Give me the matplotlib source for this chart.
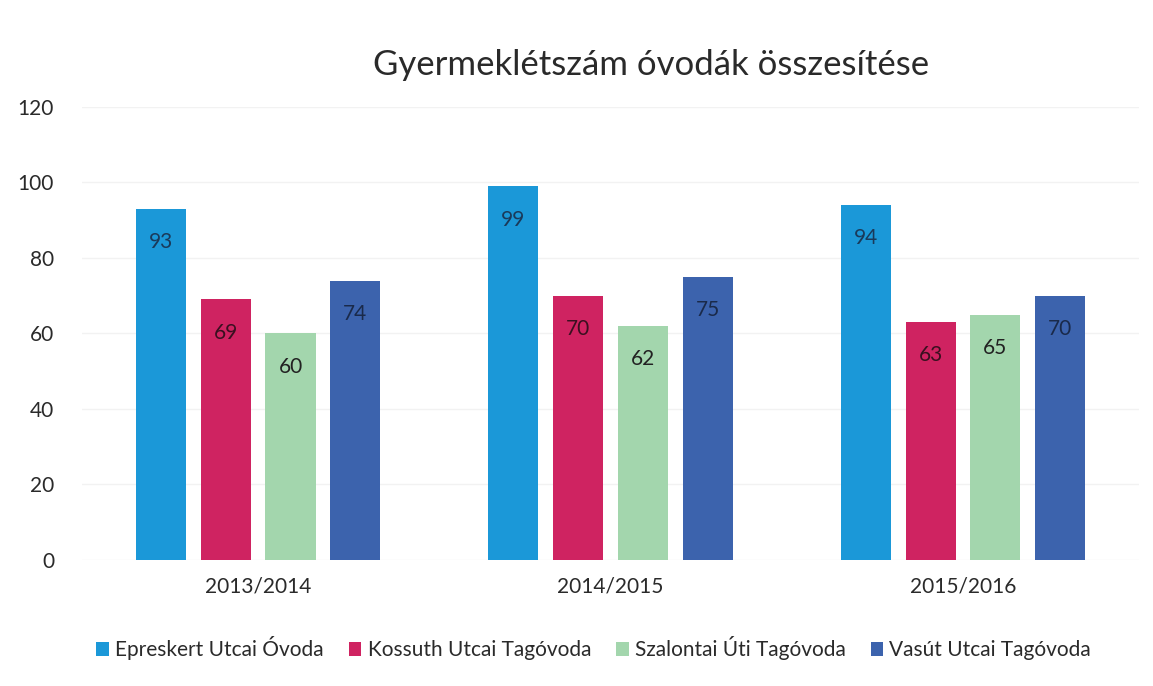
import matplotlib.pyplot as plt
import numpy as np

# === Data ===
years = ["2013/2014", "2014/2015", "2015/2016"]
series_names = ["Epreskert Utcai Óvoda", "Kossuth Utcai Tagóvoda",
                "Szalontai Úti Tagóvoda", "Vasút Utcai Tagóvoda"]
epreskert = [93, 99, 94]
kossuth = [69, 70, 63]
szalontai = [60, 62, 65]
vasut = [74, 75, 70]
colors = ["#1b98d8", "#cf2361", "#a3d6ad", "#3c63ad"]
label_colors = ["#1a3a5a", "#3a1020", "#222222", "#1a2a4a"]

plt.rcParams['font.family'] = ['Lato', 'DejaVu Sans']

fig = plt.figure(figsize=(11.53, 6.86), dpi=100)
ax = fig.add_axes([0.071, 0.184, 0.917, 0.66])

x = np.arange(len(years))
width = 0.142
step = 0.184
all_series = [epreskert, kossuth, szalontai, vasut]
for i, (vals, name, col) in enumerate(zip(all_series, series_names, colors)):
    offs = (i - 1.5) * step
    bars = ax.bar(x + offs, vals, width, color=col, label=name, zorder=2)
    for b, v in zip(bars, vals):
        ax.annotate(str(v), (b.get_x() + b.get_width() / 2, v),
                    xytext=(0, -24), textcoords="offset points",
                    ha="center", va="center", fontsize=15,
                    color=label_colors[i])

ax.set_ylim(0, 120)
ax.set_xlim(-0.5, 2.5)
ax.set_yticks(range(0, 121, 20))
ax.set_xticks(x)
ax.set_xticklabels(years)
ax.tick_params(axis='y', length=0, labelsize=15, labelcolor="#2a2a2a", pad=20)
ax.tick_params(axis='x', length=0, labelsize=15, labelcolor="#2a2a2a", pad=12)
ax.grid(axis='y', color="#f2f2f2", linewidth=1, zorder=0)
for s in ax.spines.values():
    s.set_visible(False)

fig.text(0.565, 0.905, "Gyermeklétszám óvodák összesítése", ha="center",
         va="center", fontsize=25, color="#2a2a2a")

fig.legend(loc="center", bbox_to_anchor=(0.515, 0.055), ncol=4, frameon=False,
           fontsize=15, handlelength=0.6, handleheight=0.6, handletextpad=0.3,
           columnspacing=1.2, labelcolor="#2a2a2a")

fig.savefig("out.png", dpi=100)
